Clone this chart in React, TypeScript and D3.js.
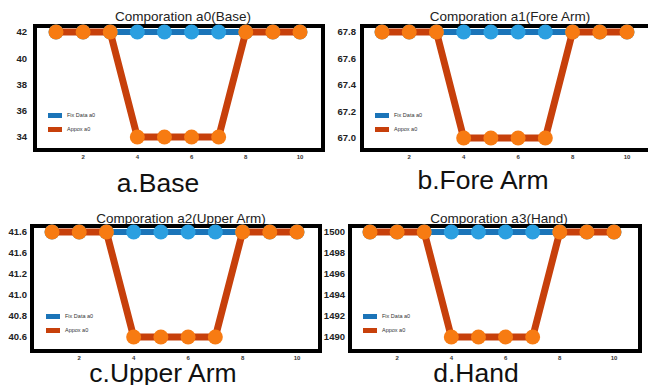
import React, { useEffect, useRef } from 'react';
import * as d3 from 'd3';

// values
const xValues = [1, 2, 3, 4, 5, 6, 7, 8, 9, 10];
const xTicks = [2, 4, 6, 8, 10];

const fixA0 = [42, 42, 42, 42, 42, 42, 42, 42, 42, 42];
const approxA0 = [42, 42, 42, 34, 34, 34, 34, 42, 42, 42];
const fixA1 = [67.8, 67.8, 67.8, 67.8, 67.8, 67.8, 67.8, 67.8, 67.8, 67.8];
const approxA1 = [67.8, 67.8, 67.8, 67.0, 67.0, 67.0, 67.0, 67.8, 67.8, 67.8];
const fixA2 = [41.6, 41.6, 41.6, 41.6, 41.6, 41.6, 41.6, 41.6, 41.6, 41.6];
const approxA2 = [41.6, 41.6, 41.6, 40.6, 40.6, 40.6, 40.6, 41.6, 41.6, 41.6];
const fixA3 = [1500, 1500, 1500, 1500, 1500, 1500, 1500, 1500, 1500, 1500];
const approxA3 = [1500, 1500, 1500, 1490, 1490, 1490, 1490, 1500, 1500, 1500];

const yTicksA0 = [42, 40, 38, 36, 34];
const yLabelsA0 = ['42', '40', '38', '36', '34'];
const yTicksA1 = [67.8, 67.6, 67.4, 67.2, 67.0];
const yLabelsA1 = ['67.8', '67.6', '67.4', '67.2', '67.0'];
const yTicksA2 = [41.6, 41.4, 41.2, 41.0, 40.8, 40.6];
const yLabelsA2 = ['41.6', '41.6', '41.2', '41.0', '40.8', '40.6'];
const yTicksA3 = [1500, 1498, 1496, 1494, 1492, 1490];
const yLabelsA3 = ['1500', '1498', '1496', '1494', '1492', '1490'];

const titles = ['Comporation a0(Base)', 'Comporation a1(Fore Arm)', 'Comporation a2(Upper Arm)', 'Comporation a3(Hand)'];
const captions = ['a.Base', 'b.Fore Arm', 'c.Upper Arm', 'd.Hand'];
const legendLabels = ['Fix Data a0', 'Appox a0'];

// layout of each panel (pixels)
const panels = [
  { fix: fixA0, approx: approxA0, yDomain: [34, 42], yTicks: yTicksA0, yLabels: yLabelsA0,
    frame: [33, 325, 24, 152], xRange: [56, 300], yRange: [137, 32], titlePos: [183, 20.5], capPos: [158, 192], legend: [48, 113], labelX: 27 },
  { fix: fixA1, approx: approxA1, yDomain: [67.0, 67.8], yTicks: yTicksA1, yLabels: yLabelsA1,
    frame: [360, 670, 24, 152], xRange: [382, 627], yRange: [138, 32], titlePos: [510, 21], capPos: [483, 189], legend: [375, 113], labelX: 356 },
  { fix: fixA2, approx: approxA2, yDomain: [40.6, 41.6], yTicks: yTicksA2, yLabels: yLabelsA2,
    frame: [30, 322, 224, 353], xRange: [52, 297], yRange: [337, 232], titlePos: [181, 222.5], capPos: [163, 382], legend: [46, 314], labelX: 27 },
  { fix: fixA3, approx: approxA3, yDomain: [1490, 1500], yTicks: yTicksA3, yLabels: yLabelsA3,
    frame: [348, 642, 224, 353], xRange: [370, 614], yRange: [337, 232], titlePos: [499, 222.5], capPos: [476, 382], legend: [363, 314], labelX: 345 },
];

const BLUE_LINE = '#1b74b8';
const BLUE_DOT = '#2b9fe0';
const RED_LINE = '#c7400b';
const ORANGE_DOT = '#f77b12';
const FONT = '"Liberation Sans", Arial, sans-serif';

const App = () => {
  const ref = useRef<SVGSVGElement | null>(null);

  useEffect(() => {
    const svg = d3.select(ref.current);
    svg.selectAll('*').remove();

    svg.append('rect').attr('width', 648).attr('height', 385).attr('fill', 'white');

    panels.forEach((p, i) => {
      const g = svg.append('g');
      const x = d3.scaleLinear().domain([1, 10]).range(p.xRange);
      const y = d3.scaleLinear().domain(p.yDomain).range(p.yRange);
      const [fx0, fx1, fy0, fy1] = p.frame;

      // title
      g.append('text')
        .attr('x', p.titlePos[0])
        .attr('y', p.titlePos[1])
        .attr('text-anchor', 'middle')
        .style('font-family', FONT)
        .style('font-size', '13.5px')
        .attr('fill', '#222')
        .text(titles[i]);

      // frame
      g.append('rect')
        .attr('x', fx0 + 2)
        .attr('y', fy0 + 2)
        .attr('width', fx1 - fx0 - 4)
        .attr('height', fy1 - fy0 - 4)
        .attr('fill', 'white')
        .attr('stroke', '#000')
        .attr('stroke-width', 4);

      // y tick labels
      g.selectAll('.ylab')
        .data(p.yTicks)
        .enter()
        .append('text')
        .attr('x', p.labelX)
        .attr('y', (d) => y(d))
        .attr('dy', '0.35em')
        .attr('text-anchor', 'end')
        .style('font-family', FONT)
        .style('font-size', '9.5px')
        .style('font-weight', 'bold')
        .attr('fill', '#222')
        .text((d, j) => p.yLabels[j]);

      // x tick labels
      g.selectAll('.xlab')
        .data(xTicks)
        .enter()
        .append('text')
        .attr('x', (d) => x(d))
        .attr('y', fy1 + 7)
        .attr('text-anchor', 'middle')
        .style('font-family', FONT)
        .style('font-size', '6px')
        .style('font-weight', 'bold')
        .attr('fill', '#333')
        .text((d) => d);

      const line = d3.line<number>()
        .x((d, j) => x(xValues[j]))
        .y((d) => y(d));

      // fix data
      g.append('path')
        .attr('d', line(p.fix))
        .attr('fill', 'none')
        .attr('stroke', BLUE_LINE)
        .attr('stroke-width', 6);
      g.selectAll('.fixdot')
        .data(p.fix)
        .enter()
        .append('circle')
        .attr('cx', (d, j) => x(xValues[j]))
        .attr('cy', (d) => y(d))
        .attr('r', 7.5)
        .attr('fill', BLUE_DOT);

      // approx data
      g.append('path')
        .attr('d', line(p.approx))
        .attr('fill', 'none')
        .attr('stroke', RED_LINE)
        .attr('stroke-width', 7);
      g.selectAll('.apdot')
        .data(p.approx)
        .enter()
        .append('circle')
        .attr('cx', (d, j) => x(xValues[j]))
        .attr('cy', (d) => y(d))
        .attr('r', 7.5)
        .attr('fill', ORANGE_DOT);

      // legend
      const [lx, ly] = p.legend;
      [BLUE_LINE, RED_LINE].forEach((c, k) => {
        g.append('rect')
          .attr('x', lx)
          .attr('y', ly + k * 14)
          .attr('width', 14)
          .attr('height', 5)
          .attr('fill', c);
        g.append('text')
          .attr('x', lx + 19)
          .attr('y', ly + k * 14 + 3.5)
          .style('font-family', FONT)
          .style('font-size', '5.5px')
          .attr('fill', '#333')
          .text(legendLabels[k]);
      });

      // caption
      g.append('text')
        .attr('x', p.capPos[0])
        .attr('y', p.capPos[1])
        .attr('text-anchor', 'middle')
        .style('font-family', FONT)
        .style('font-size', '26.5px')
        .attr('fill', '#111')
        .text(captions[i]);
    });
  }, []);

  return (
    <svg
      ref={ref}
      width={648}
      height={385}
      style={{ position: 'absolute', left: 0, top: 0, display: 'block' }}
    />
  );
};

export default App;
